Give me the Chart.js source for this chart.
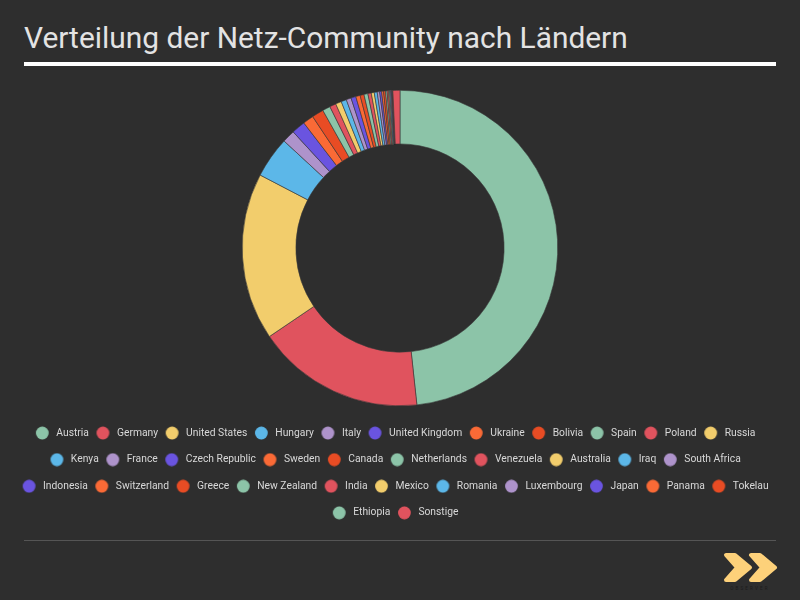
<!DOCTYPE html>
<html>
<head>
<meta charset="utf-8">
<script src="https://cdn.jsdelivr.net/npm/chart.js@4"></script>
<style>
    html, body { margin: 0; padding: 0; background: #2e2e2e; }
    #page { position: relative; width: 800px; height: 600px; overflow: hidden; background: #2e2e2e; }
    #title { position: absolute; left: 24px; top: 20px; color: #e3e3e3; font: 400 29.9px Roboto, sans-serif; white-space: nowrap; }
    #rule { position: absolute; left: 24px; top: 62px; width: 752px; height: 4px; background: #fff; }
    #footrule { position: absolute; left: 24px; top: 540px; width: 752px; height: 1px; background: #555; }
    #wrap { position: absolute; left: 12px; top: 70px; width: 776px; height: 460px; }
    #logo { position: absolute; left: 720px; top: 548px; }
</style>
</head>
<body>
<div id="page">
    <div id="title">Verteilung der Netz-Community nach Ländern</div>
    <div id="rule"></div>
    <div id="wrap"><canvas id="chartLaender"></canvas></div>
    <div id="footrule"></div>
    <svg id="logo" width="60" height="46" viewBox="0 0 60 46">
        <path d="M6 7 L15 7 L30 19.5 L15 32 L6 32 L17 19.5 Z" fill="#fdd17a" stroke="#fdd17a" stroke-width="4" stroke-linejoin="round"/>
        <path d="M31 7 L40 7 L55 19.5 L40 32 L31 32 L42 19.5 Z" fill="#fdd17a" stroke="#2e2e2e" stroke-width="0"/>
        <path d="M31 7 L40 7 L55 19.5 L40 32 L31 32 L42 19.5 Z" fill="#fdd17a" stroke="#fdd17a" stroke-width="4" stroke-linejoin="round"/>
        <text x="30" y="42" text-anchor="middle" font-family="Roboto" font-size="4.5" letter-spacing="2.2" fill="#1c1c1c">OBSERVER</text>
    </svg>
</div>
<script>
const laender = [
    'Austria', 'Germany', 'United States', 'Hungary', 'Italy', 'United Kingdom', 'Ukraine', 'Bolivia', 'Spain', 'Poland', 'Russia',
    'Kenya', 'France', 'Czech Republic', 'Sweden', 'Canada', 'Netherlands', 'Venezuela', 'Australia', 'Iraq', 'South Africa',
    'Indonesia', 'Switzerland', 'Greece', 'New Zealand', 'India', 'Mexico', 'Romania', 'Luxembourg', 'Japan', 'Panama', 'Tokelau',
    'Ethiopia', 'Sonstige'
];

const anteile = [
    48.2, 17.2, 17.1, 4.2, 1.3, 1.4, 1.1, 1.2, 0.8, 0.65, 0.6,
    0.55, 0.5, 0.5, 0.45, 0.4, 0.4, 0.35, 0.3, 0.3, 0.25,
    0.2, 0.2, 0.2, 0.15, 0.15, 0.1, 0.1, 0.08, 0.06, 0.05, 0.03,
    0.02, 0.72
];

const palette = ['#8cc4a8', '#e0535e', '#f2cd6c', '#5cb7e8', '#ae93cb', '#6a54e0', '#fa6a36', '#e84c24'];
const farben = laender.map((l, i) => palette[i % palette.length]);

// Legendenpunkt sitzt absichtlich links von der Bildmitte:
// die Legende kennt nur ein padding fuer Zeilen und Spalten
function punkt(farbe) {
    const c = document.createElement('canvas');
    c.width = 30;
    c.height = 14;
    const g = c.getContext('2d');
    g.fillStyle = farbe;
    g.beginPath();
    g.arc(9.43, 7, 6.4, 0, Math.PI * 2);
    g.fill();
    return c;
}

const ctx = document.getElementById('chartLaender');

new Chart(ctx, {
    type: 'doughnut',
    data: {
        labels: laender,
        datasets: [{
            data: anteile,
            backgroundColor: farben,
            borderColor: '#3a3a3a',
            borderWidth: 0.6
        }]
    },
    options: {
        responsive: true,
        maintainAspectRatio: false,
        animation: false,
        cutout: '66%',
        layout: { padding: { top: 20, bottom: 2 } },
        plugins: {
            tooltip: { enabled: false },
            legend: {
                position: 'bottom',
                title: {
                    display: true,
                    text: '',
                    font: { size: 1, lineHeight: 1 },
                    padding: { top: 2, bottom: 2.5 }
                },
                labels: {
                    color: '#d8d8d8',
                    font: { family: 'Roboto', size: 10.3 },
                    padding: 16.3,
                    usePointStyle: true,
                    pointStyleWidth: 6.55,
                    generateLabels(chart) {
                        const basis = Chart.overrides.doughnut.plugins.legend.labels.generateLabels(chart);
                        return basis.map((item, i) => {
                            item.pointStyle = punkt(farben[i]);
                            item.lineWidth = 0;
                            return item;
                        });
                    }
                }
            }
        }
    }
});
</script>
</body>
</html>
